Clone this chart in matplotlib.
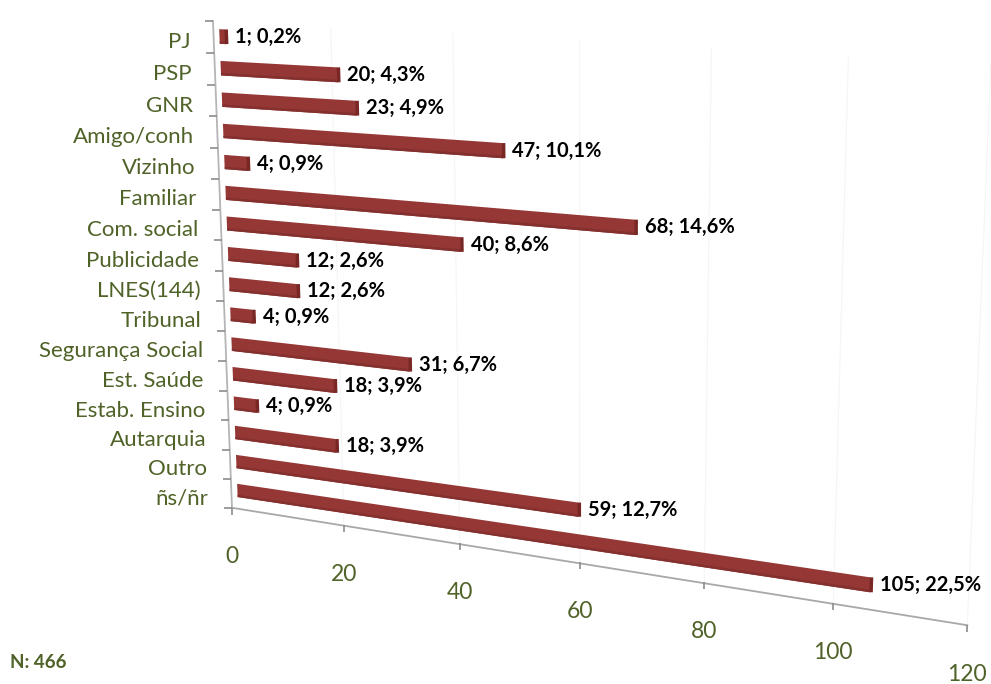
import numpy as np
import matplotlib.pyplot as plt
from matplotlib import transforms as mtransforms

plt.rcParams['font.family'] = ['Lato', 'DejaVu Sans']

categories = ['PJ', 'PSP', 'GNR', 'Amigo/conh', 'Vizinho', 'Familiar', 'Com. social',
              'Publicidade', 'LNES(144)', 'Tribunal', 'Segurança Social', 'Est. Saúde',
              'Estab. Ensino', 'Autarquia', 'Outro', 'ñs/ñr']
counts = [1, 20, 23, 47, 4, 68, 40, 12, 12, 4, 31, 18, 4, 18, 59, 105]
value_ticks = [0, 20, 40, 60, 80, 100, 120]
total = sum(counts)  # 466

GREEN = '#4F6228'
BAR = '#953735'


class Perspective(mtransforms.Transform):
    """(value, category) -> pixel, projective map giving the 3-D tilt."""
    input_dims = 2
    output_dims = 2
    is_separable = False
    has_inverse = False

    def __init__(self, x0, y0, a, b, c, d, gx, gy, h):
        super().__init__()
        self.p = (x0, y0, a, b, c, d, gx, gy, h)

    def transform_non_affine(self, values):
        x0, y0, a, b, c, d, gx, gy, h = self.p
        values = np.asarray(values, dtype=float)
        u, v = values[:, 0], values[:, 1]
        x = (x0 + a * u + c * v) / (1 + gx * u + h * v)
        y = (y0 + b * u + d * v) / (1 + gy * u + h * v)
        return np.column_stack([x, y])


fig = plt.figure(figsize=(9.91, 6.84), dpi=100)
ax = fig.add_axes([0, 0, 1, 1])
ax.set_xlim(0, 991)
ax.set_ylim(684, 0)
ax.set_autoscale_on(False)
ax.axis('off')

# bar plane and back wall / floor plane
bar_tr = Perspective(219.5, 36.5, 5.55, 0.243, 2.0, 31.93, -0.0009, -0.0012, 0.0034) + ax.transData
wall_tr = Perspective(213.6, 37.0, 5.58, 0.28, 1.975, 32.1, -0.0009, -0.0012, 0.0034) + ax.transData


def shifted(tr, dx=0, dy=0):
    return mtransforms.offset_copy(tr, fig=fig, x=dx, y=dy, units='dots')


pos = np.arange(len(categories))
top, bottom = -0.5, len(categories) - 0.5

# faint gridlines on the back wall
for t in value_ticks[1:]:
    ax.plot([t, t], [top, bottom], color='#f5f5f5', lw=0.8, transform=wall_tr, zorder=0)

# axes lines and ticks
ax.plot([0, 0], [top, bottom], color='#b5b5b5', lw=1.3, transform=wall_tr, zorder=1)
ax.plot([0, value_ticks[-1]], [bottom, bottom], color='#a8a8a8', lw=1.3, transform=wall_tr, zorder=1)
ax.plot(np.zeros(len(categories) + 1), np.arange(len(categories) + 1) - 0.5, ls='none',
        marker=0, ms=6, mew=1.2, color='#8c8c8c', transform=wall_tr, zorder=1)
ax.plot(value_ticks, [bottom] * len(value_ticks), ls='none',
        marker=3, ms=5, mew=1.2, color='#8c8c8c', transform=wall_tr, zorder=1)

for t in value_ticks:
    ax.text(t, bottom, str(t), transform=shifted(wall_tr, 0, -49), ha='center', va='center',
            fontsize=16.5, color=GREEN)

for i, name in enumerate(categories):
    ax.text(0, i, name, transform=shifted(wall_tr, -23, -5), ha='right', va='center',
            fontsize=16, color=GREEN)

# bars: front face, darker lower edge, end cap
ax.barh(pos, counts, height=0.46, left=0, color=BAR, transform=bar_tr, zorder=2)
ax.barh(pos + 0.19, counts, height=0.08, left=0, color='#83302e', transform=bar_tr, zorder=3)
for i, n in enumerate(counts):
    ax.plot([n, n], [i - 0.23, i + 0.23], color='#782725', lw=2.5, solid_capstyle='butt',
            transform=shifted(bar_tr, 1.2, 0), zorder=3)
    pct = f'{100 * n / total:.1f}'.replace('.', ',')
    ax.text(n, i, f'{n}; {pct}%', transform=shifted(bar_tr, 10, 0), ha='left', va='center',
            fontsize=14.5, fontweight='bold', color='black', zorder=4)

fig.text(10 / 991, 1 - 662 / 684, f'N: {total}', ha='left', va='center',
         fontsize=13.5, fontweight='bold', color=GREEN)

fig.savefig('out.png', dpi=100, facecolor='white')
